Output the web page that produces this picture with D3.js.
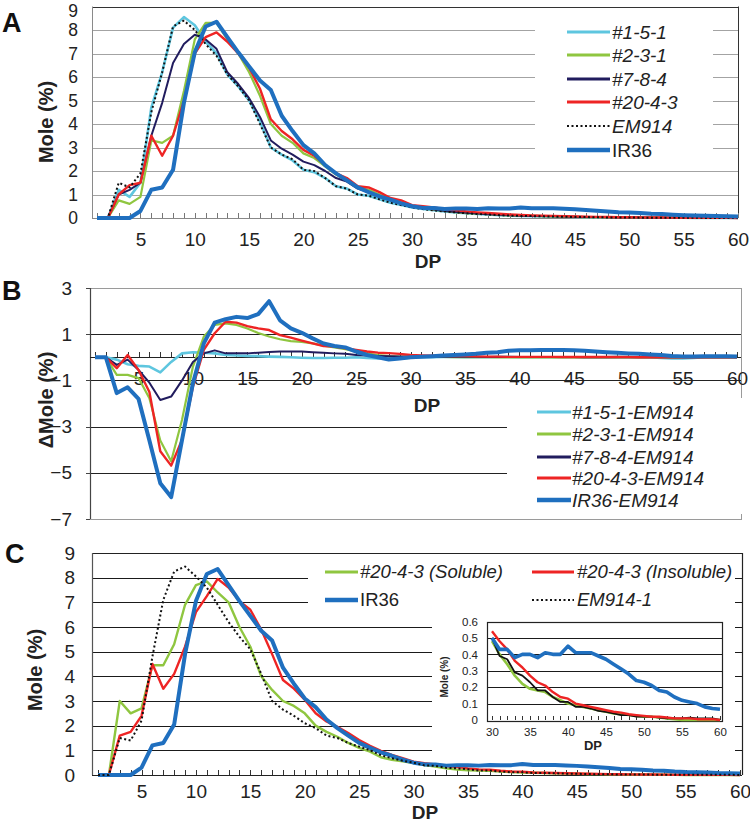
<!DOCTYPE html>
<html><head><meta charset="utf-8">
<script src="https://cdn.jsdelivr.net/npm/d3@7"></script>
<style>
body{margin:0;background:#fff}
svg{display:block;font-family:"Liberation Sans",Arial,Helvetica,sans-serif}
</style>
</head><body>
<svg id="chart" width="750" height="826"></svg>
<script>
// ---------------- DATA ----------------
const dp = [1,2,3,4,5,6,7,8,9,10,11,12,13,14,15,16,17,18,19,20,21,22,23,24,25,26,27,28,29,30,
            31,32,33,34,35,36,37,38,39,40,41,42,43,44,45,46,47,48,49,50,51,52,53,54,55,56,57,58,59,60];
const xTickLabels = [5,10,15,20,25,30,35,40,45,50,55,60];
const yTicksMole = [0,1,2,3,4,5,6,7,8,9];
const yTicksDelta = [-7,-5,-3,-1,1,3];
const yTicksInset = [0,0.1,0.2,0.3,0.4,0.5,0.6];
const xTicksInset = [30,35,40,45,50,55,60];

// Panel A series (Mole %)
const a_151 = [0,0,1.2,0.9,1.5,4.7,6.2,8.1,8.55,8.2, 7.5,7.0,6.1,5.6,5.0,4.1,3.0,2.7,2.45,2.05,
  1.95,1.7,1.35,1.25,1.0,0.95,0.8,0.65,0.55,0.45, 0.38,0.33,0.28,0.24,0.2,0.17,0.15,0.12,0.1,0.09,
  0.08,0.07,0.06,0.05,0.04,0.035,0.03,0.025,0.02,0.02, 0.015,0.01,0.01,0.01,0.01,0.005,0.005,0.005,0,0];
const a_231 = [0,0,0.75,0.6,0.9,3.3,3.2,3.5,5.4,7.6, 8.3,8.3,7.6,7.0,6.2,5.2,4.0,3.5,3.2,2.75,
  2.55,2.2,1.85,1.6,1.3,1.2,1.0,0.8,0.65,0.5, 0.42,0.36,0.3,0.25,0.21,0.18,0.16,0.13,0.11,0.1,
  0.09,0.08,0.07,0.06,0.05,0.04,0.035,0.03,0.025,0.02, 0.02,0.015,0.01,0.005,0,0,0,0,0,0];
const a_784 = [0,0,1.0,1.2,1.5,3.5,4.9,6.6,7.4,7.8, 7.6,7.2,6.2,5.7,5.1,4.3,3.3,2.95,2.7,2.4,
  2.25,2.0,1.7,1.55,1.25,1.1,0.9,0.75,0.6,0.5, 0.42,0.36,0.3,0.26,0.22,0.19,0.16,0.14,0.12,0.1,
  0.09,0.08,0.07,0.06,0.05,0.045,0.04,0.03,0.025,0.02, 0.02,0.015,0.01,0.01,0.01,0.005,0.005,0,0,0];
const a_2043 = [0,0,1.0,1.4,1.5,3.5,2.65,3.5,5.0,7.0, 7.7,7.9,7.5,7.0,6.4,5.5,4.2,3.7,3.35,2.9,
  2.65,2.25,1.9,1.7,1.35,1.3,1.1,0.85,0.75,0.55, 0.5,0.45,0.38,0.33,0.28,0.24,0.21,0.18,0.15,0.13,
  0.11,0.1,0.09,0.08,0.07,0.06,0.05,0.04,0.035,0.03, 0.025,0.02,0.02,0.015,0.01,0.01,0.01,0.005,0.005,0];
const a_em914 = [0,0,1.5,1.3,1.9,4.5,6.2,8.15,8.4,8.0, 7.4,6.9,6.1,5.6,5.0,4.0,3.0,2.7,2.5,2.05,
  2.0,1.7,1.35,1.25,1.0,0.95,0.8,0.65,0.55,0.45, 0.38,0.32,0.28,0.24,0.2,0.17,0.15,0.12,0.1,0.09,
  0.08,0.07,0.06,0.05,0.045,0.04,0.03,0.025,0.02,0.02, 0.015,0.01,0.01,0.01,0.01,0.01,0.005,0.005,0.005,0];
const ir36 = [0,0,0,0,0.3,1.2,1.3,2.05,4.9,7.05, 8.15,8.35,7.7,7.05,6.45,5.85,5.45,4.35,3.7,3.1,
  2.75,2.25,1.9,1.6,1.3,1.1,0.92,0.78,0.62,0.5, 0.43,0.43,0.38,0.40,0.40,0.38,0.41,0.40,0.40,0.45,
  0.41,0.41,0.41,0.39,0.37,0.34,0.31,0.28,0.24,0.23, 0.21,0.18,0.17,0.14,0.12,0.11,0.10,0.08,0.07,0.065];

// Panel B series (delta Mole %)
const b_151 = [0,0,-0.1,-0.3,-0.37,-0.4,-0.65,-0.2,0.17,0.22, 0.2,0.17,0.1,0.08,0.06,0.05,0.03,0.02,0,-0.02,
  -0.03,-0.03,-0.02,-0.02,0,-0.03,-0.05,-0.03,-0.05,-0.02, 0,0,0.02,0.02,0,0,0,0.02,0.02,0,
  0,0,0,0,0,0,0,0,0.02,0.02, 0,0,-0.03,-0.05,-0.05,-0.03,0,0,0,0];
const b_231 = [0,0,-0.76,-0.76,-0.9,-1.77,-3.6,-4.5,-2.7,-0.4, 0.9,1.4,1.47,1.4,1.25,1.05,0.9,0.78,0.7,0.67,
  0.6,0.5,0.43,0.35,0.25,0.17,0.1,0.05,0.03,0.02, 0.02,0.02,0.02,0.01,0.01,0.01,0.01,0,0,0,
  0,0,0,0,0,0,0,0,0,0, 0,0,0,0,0,0,0,0,0,0];
const b_784 = [0,0,-0.33,-0.1,-0.55,-1.1,-1.85,-1.7,-1.0,-0.2, 0.17,0.3,0.17,0.17,0.17,0.2,0.23,0.25,0.25,0.25,
  0.22,0.2,0.17,0.15,0.1,0.08,0.06,0.05,0.04,0.03, 0.03,0.03,0.02,0.02,0.02,0.02,0.01,0.01,0.01,0.01,
  0.01,0.01,0.01,0.01,0.01,0,0,0,0,0, 0,0,0,0,0,0,0,0,0,0];
const b_2043 = [0,0,-0.47,0.1,-0.55,-1.5,-4.07,-4.69,-3.57,-1.27, 0.32,1.04,1.54,1.5,1.35,1.25,1.18,0.96,0.85,0.72,
  0.6,0.49,0.46,0.39,0.32,0.25,0.2,0.18,0.15,0.1, 0.08,0.07,0.06,0.05,0.05,0.04,0.03,0.03,0.02,0.02,
  0.02,0.02,0.02,0.01,0.01,0.01,0.01,0.01,0.01,0.01, 0,0,0,0,0,0,0,0,0,0];
const b_ir36 = [0,0,-1.55,-1.3,-1.8,-3.6,-5.45,-6.05,-3.57,-1.12, 0.6,1.5,1.65,1.75,1.7,1.87,2.43,1.6,1.25,1.06,
  0.82,0.6,0.49,0.43,0.25,0.1,0,-0.1,-0.05,0, 0.02,0.05,0.08,0.1,0.12,0.15,0.2,0.22,0.28,0.3,
  0.3,0.32,0.32,0.32,0.3,0.28,0.25,0.22,0.2,0.17, 0.15,0.12,0.1,0.06,0.04,0.04,0.05,0.05,0.05,0.04];

// Panel C series (Mole %)
const c_sol = [0,0,3.0,2.5,2.7,4.45,4.45,5.3,6.9,7.7, 7.85,7.4,7.0,6.0,5.2,4.0,3.45,3.0,2.8,2.5,
  2.0,1.75,1.55,1.3,1.1,0.95,0.72,0.62,0.55,0.48, 0.40,0.34,0.27,0.22,0.19,0.18,0.17,0.14,0.12,0.10,
  0.09,0.08,0.07,0.06,0.05,0.04,0.035,0.03,0.025,0.02, 0.02,0.015,0.01,0.005,0,0,0,0,0,0];
const c_insol = [0,0,1.6,1.75,2.4,4.5,3.5,4.1,5.2,6.6, 7.25,7.95,7.6,7.05,6.7,5.9,4.9,3.85,3.5,3.05,
  2.5,2.17,1.95,1.7,1.42,1.18,0.98,0.82,0.68,0.54, 0.48,0.43,0.36,0.32,0.27,0.23,0.21,0.17,0.14,0.13,
  0.10,0.09,0.08,0.07,0.06,0.05,0.045,0.035,0.03,0.025, 0.02,0.02,0.015,0.01,0.01,0.01,0.005,0.005,0.005,0];
const c_em914_1 = [0,0,1.5,1.4,2.2,4.8,7.1,8.25,8.45,8.05, 7.6,6.9,6.2,5.6,5.1,4.1,3.0,2.65,2.4,2.1,
  1.9,1.6,1.5,1.3,1.15,1.0,0.8,0.68,0.58,0.5, 0.39,0.37,0.29,0.27,0.23,0.18,0.18,0.14,0.11,0.11,
  0.08,0.08,0.07,0.055,0.05,0.04,0.03,0.03,0.02,0.02, 0.02,0.015,0.01,0.01,0.01,0.015,0.01,0.01,0.01,0];

const legendA = ['#1-5-1','#2-3-1','#7-8-4','#20-4-3','EM914','IR36'];
const legendB = ['#1-5-1-EM914','#2-3-1-EM914','#7-8-4-EM914','#20-4-3-EM914','IR36-EM914'];
const legendC = ['#20-4-3 (Soluble)','#20-4-3 (Insoluble)','IR36','EM914-1'];

// ---------------- STYLE ----------------
const COL = {lb:'#5ec6df', gr:'#8fc640', nv:'#211c5e', rd:'#ee2424', bl:'#1f6fbf', bk:'#111'};
const FS = 19;

const svg = d3.select('#chart');

function line(x, y, xs){
  return d3.line().x((d,i)=>x(xs[i])).y(d=>y(d));
}
const px = v => Math.round(v) + 0.5;
function hline(g, x0, x1, yv, color, w){
  g.append('line').attr('x1',x0).attr('x2',x1).attr('y1',px(yv)).attr('y2',px(yv))
   .attr('stroke',color).attr('stroke-width',w||1);
}
function vline(g, xv, y0, y1, color, w){
  g.append('line').attr('x1',px(xv)).attr('x2',px(xv)).attr('y1',y0).attr('y2',y1)
   .attr('stroke',color).attr('stroke-width',w||1);
}
function styleAxis(ga, fs, color){
  ga.attr('font-size',null).attr('font-family',null);
  ga.select('.domain').remove();
  ga.selectAll('text').attr('font-size',fs).attr('fill','#222');
  ga.selectAll('line').attr('stroke',color).attr('shape-rendering','crispEdges');
}
function series(g, x, y, xs, vals, color, w, dash){
  const p = g.append('path').datum(vals).attr('d', line(x,y,xs)).attr('fill','none')
    .attr('stroke',color).attr('stroke-width',w).attr('stroke-linejoin','round');
  if(dash) p.attr('stroke-dasharray',dash);
  return p;
}
function legendItem(g, x0, x1, tx, yv, label, color, w, dash, italic, fs){
  const l = g.append('line').attr('x1',x0).attr('x2',x1).attr('y1',yv).attr('y2',yv)
    .attr('stroke',color).attr('stroke-width',w);
  if(dash) l.attr('stroke-dasharray',dash);
  g.append('text').attr('x',tx).attr('y',yv).attr('dy','0.35em').attr('font-size',fs||FS)
    .attr('font-style',italic?'italic':'normal').attr('fill','#222').text(label);
}
function yTitle(g, cx, cy, label, fs){
  g.append('text').attr('transform',`translate(${cx},${cy}) rotate(-90)`).attr('text-anchor','middle')
   .attr('dy','0.35em').attr('font-size',fs).attr('font-weight','bold').attr('fill','#222').text(label);
}
function panelLetter(x, y, t){
  svg.append('text').attr('x',x).attr('y',y).attr('font-size',27).attr('font-weight','bold').attr('fill','#111').text(t);
}

// ---------------- PANEL A ----------------
(function(){
  const g = svg.append('g');
  const L=92, R=738;
  const x = d3.scaleLinear().domain([1,60]).range([97,738]);
  const y = d3.scaleLinear().domain([0,9]).range([218,6.5]);
  yTicksMole.slice(1,9).forEach(v=>hline(g,L,R,y(v),'#a3a3a3',1));
  hline(g,L,R,y(9),'#333',1);
  vline(g,R,y(9),y(0),'#333',1);
  vline(g,L,y(9),y(0),'#8a8a8a',1);
  // legend box
  g.append('rect').attr('x',535).attr('y',20).attr('width',178).attr('height',140).attr('fill','#fff');
  // axes
  const gx = g.append('g').attr('transform',`translate(0,${y(0)})`)
    .call(d3.axisBottom(x).tickValues(dp).tickSize(-5).tickPadding(15).tickFormat(d=>xTickLabels.includes(d)?d:''));
  styleAxis(gx, FS, '#777');
  hline(g,L,R,y(0),'#888',1);
  const gy = g.append('g').attr('transform',`translate(${L},0)`)
    .call(d3.axisLeft(y).tickValues(yTicksMole).tickSize(0).tickPadding(14));
  styleAxis(gy, 17.5, '#777');
  gy.selectAll('text').filter(d=>d===9).attr('dy','0.55em');
  g.append('text').attr('x',428).attr('y',261).attr('dy','0.35em').attr('text-anchor','middle')
   .attr('font-size',FS).attr('font-weight','bold').attr('fill','#222').text('DP');
  yTitle(g,46,122,'Mole (%)',20);
  // data
  series(g,x,y,dp,a_151,COL.lb,2.6);
  series(g,x,y,dp,a_231,COL.gr,2.2);
  series(g,x,y,dp,a_784,COL.nv,2);
  series(g,x,y,dp,a_2043,COL.rd,2.4);
  series(g,x,y,dp,a_em914,COL.bk,2,'2,2.5');
  series(g,x,y,dp,ir36,COL.bl,4);
  // legend
  const rows=[32,55,79,102,126,150];
  const st=[[COL.lb,3,null,true],[COL.gr,3,null,true],[COL.nv,3,null,true],[COL.rd,3,null,true],[COL.bk,2,'2,2.5',true],[COL.bl,4.5,null,false]];
  legendA.forEach((t,i)=>legendItem(g,567,610,612,rows[i],t,st[i][0],st[i][1],st[i][2],st[i][3]));
})();
panelLetter(2,32,'A');

// ---------------- PANEL B ----------------
(function(){
  const g = svg.append('g');
  const L=90, R=741;
  const x = d3.scaleLinear().domain([1,60]).range([95,737]);
  const y = d3.scaleLinear().domain([-7,3]).range([519,288]);
  // frame
  g.append('rect').attr('x',L+0.5).attr('y',px(y(3))).attr('width',R-L).attr('height',Math.round(y(-7)-y(3)))
   .attr('fill','none').attr('stroke','#9a9a9a').attr('stroke-width',1);
  yTicksDelta.slice(1,5).forEach(v=>hline(g,L,R,y(v),'#222',1.2));
  // legend box
  g.append('rect').attr('x',507).attr('y',398).attr('width',240).attr('height',116).attr('fill','#fff');
  vline(g,L,y(3),y(-7),'#444',1.2);
  const gx = g.append('g').attr('transform',`translate(0,${y(0)})`)
    .call(d3.axisBottom(x).tickValues(dp).tickSize(-5).tickPadding(14).tickFormat(d=>xTickLabels.includes(d)?d:''));
  styleAxis(gx, FS, '#333');
  hline(g,L,R,y(0),'#222',1.2);
  const gy = g.append('g').attr('transform',`translate(${L},0)`)
    .call(d3.axisLeft(y).tickValues(yTicksDelta).tickSize(4).tickPadding(14));
  styleAxis(gy, FS, '#444');
  g.append('text').attr('x',427).attr('y',405).attr('dy','0.35em').attr('text-anchor','middle')
   .attr('font-size',FS).attr('font-weight','bold').attr('fill','#222').text('DP');
  yTitle(g,46,400,'\u0394Mole (%)',20);
  series(g,x,y,dp,b_151,COL.lb,2.6);
  series(g,x,y,dp,b_231,COL.gr,2.2);
  series(g,x,y,dp,b_784,COL.nv,2);
  series(g,x,y,dp,b_2043,COL.rd,2.4);
  series(g,x,y,dp,b_ir36,COL.bl,4);
  const rows=[412,434,457,478,500];
  const st=[[COL.lb,3],[COL.gr,3],[COL.nv,3],[COL.rd,3],[COL.bl,4.5]];
  legendB.forEach((t,i)=>legendItem(g,537,571,572,rows[i],t,st[i][0],st[i][1],null,true));
})();
panelLetter(2,300,'B');

// ---------------- PANEL C ----------------
(function(){
  const g = svg.append('g');
  const L=92, R=742;
  const x = d3.scaleLinear().domain([1,60]).range([98,740]);
  const y = d3.scaleLinear().domain([0,9]).range([775,553]);
  yTicksMole.slice(1,9).forEach(v=>hline(g,L,R,y(v),'#1a1a1a',1));
  hline(g,L,R,y(9),'#222',1.2);
  vline(g,R,y(9),y(0),'#222',1.2);
  vline(g,L,y(9),y(0),'#555',1.2);
  // legend + inset white background
  g.append('rect').attr('x',308).attr('y',556).attr('width',427).attr('height',57).attr('fill','#fff');
  g.append('rect').attr('x',432).attr('y',612).attr('width',303).attr('height',148).attr('fill','#fff');
  const gx = g.append('g').attr('transform',`translate(0,${y(0)})`)
    .call(d3.axisBottom(x).tickValues(dp).tickSize(-5).tickPadding(10).tickFormat(d=>xTickLabels.includes(d)?d:''));
  styleAxis(gx, FS, '#333');
  hline(g,L,R,y(0),'#222',1.2);
  const gy = g.append('g').attr('transform',`translate(${L},0)`)
    .call(d3.axisLeft(y).tickValues(yTicksMole).tickSize(0).tickPadding(17));
  styleAxis(gy, FS, '#444');
  g.append('text').attr('x',425).attr('y',812).attr('dy','0.35em').attr('text-anchor','middle')
   .attr('font-size',FS).attr('font-weight','bold').attr('fill','#222').text('DP');
  yTitle(g,35,670,'Mole (%)',20);
  series(g,x,y,dp,c_sol,COL.gr,2.4);
  series(g,x,y,dp,c_insol,COL.rd,2.4);
  series(g,x,y,dp,ir36,COL.bl,4);
  series(g,x,y,dp,c_em914_1,COL.bk,2,'2,2.5');
  // legend
  legendItem(g,325,358,360,572,legendC[0],COL.gr,3,null,true,18.5);
  legendItem(g,532,574,577,572,legendC[1],COL.rd,3,null,true,18.5);
  legendItem(g,325,358,360,600,legendC[2],COL.bl,4.5,null,false,18.5);
  legendItem(g,532,574,577,600,legendC[3],COL.bk,2,'2,2.5',true,18.5);

  // inset
  const gi = svg.append('g');
  const iL=487, iR=722;
  const xi = d3.scaleLinear().domain([30,60]).range([492,720]);
  const yi = d3.scaleLinear().domain([0,0.6]).range([720,621.5]);
  yTicksInset.slice(1,6).forEach(v=>hline(gi,iL,iR,yi(v),'#1a1a1a',1));
  gi.append('rect').attr('x',iL+0.5).attr('y',px(yi(0.6))).attr('width',iR-iL).attr('height',Math.round(yi(0)-yi(0.6)))
    .attr('fill','none').attr('stroke','#222').attr('stroke-width',1.2);
  const dpI = dp.filter(d=>d>=30);
  const gxi = gi.append('g').attr('transform',`translate(0,${yi(0)})`)
    .call(d3.axisBottom(xi).tickValues(dpI).tickSize(-4).tickPadding(8).tickFormat(d=>xTicksInset.includes(d)?d:''));
  styleAxis(gxi, 11.5, '#333');
  const gyi = gi.append('g').attr('transform',`translate(${iL},0)`)
    .call(d3.axisLeft(yi).tickValues(yTicksInset).tickSize(0).tickPadding(9).tickFormat(d3.format('.1~f')));
  styleAxis(gyi, 11.5, '#333');
  gyi.selectAll('text').filter(d=>d===0).text('0');
  gi.append('text').attr('x',593).attr('y',745).attr('dy','0.35em').attr('text-anchor','middle')
   .attr('font-size',13).attr('font-weight','bold').attr('fill','#222').text('DP');
  yTitle(gi,444,677,'Mole (%)',10);
  const sl = a => a.slice(29);
  series(gi,xi,yi,dpI,sl(c_sol),COL.gr,2.6);
  series(gi,xi,yi,dpI,sl(c_em914_1),COL.bk,1.8);
  series(gi,xi,yi,dpI,sl(c_insol),COL.rd,2.4);
  series(gi,xi,yi,dpI,sl(ir36),COL.bl,3.6);
})();
panelLetter(5,563,'C');
</script>
</body></html>
